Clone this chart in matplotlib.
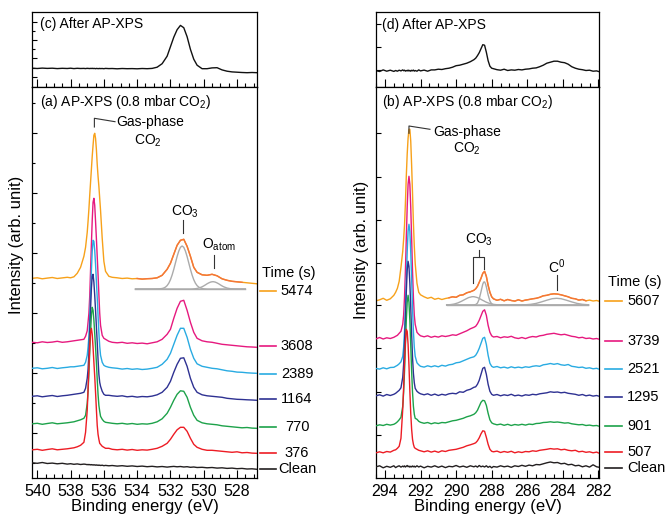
import matplotlib
matplotlib.use('Agg')
import matplotlib.pyplot as plt
from matplotlib.lines import Line2D
from matplotlib.ticker import MultipleLocator

plt.rcParams['font.family'] = ['Liberation Sans', 'DejaVu Sans']
plt.rcParams['mathtext.default'] = 'regular'

# ---------------- data: O 1s (left column) ----------------
E_A = [540.3, 540.0, 539.7, 539.4, 539.1, 538.8, 538.5, 538.2, 538.0, 537.8,
       537.6, 537.4, 537.2, 537.1, 537.0, 536.95, 536.9, 536.85, 536.8, 536.75,
       536.7, 536.65, 536.6, 536.55, 536.5, 536.45, 536.4, 536.35, 536.3, 536.25,
       536.2, 536.1, 536.0, 535.9, 535.7, 535.5, 535.2, 534.9, 534.6, 534.3,
       534.0, 533.7, 533.4, 533.1, 532.8, 532.5, 532.2, 532.0, 531.8, 531.6,
       531.4, 531.2, 531.0, 530.8, 530.6, 530.4, 530.1, 529.8, 529.5, 529.2,
       528.9, 528.6, 528.3, 528.0, 527.7, 527.4, 527.1, 526.8]

A_5474 = [6, 6.5, 5.5, 6.2, 6.8, 5.8, 6.4, 7, 6.5, 7.5,
          11, 17, 28, 37, 52, 63, 75, 89, 102, 115,
          128, 139, 149, 151, 146, 135, 120, 108, 98, 86,
          74, 46, 23, 13, 8, 7, 6.5, 5.8, 6.2, 5.5,
          5.8, 5.2, 5.6, 5.8, 6.5, 9, 15, 21, 30, 39,
          44, 45, 38, 28, 17, 12, 9.5, 9, 10, 8.5,
          5.5, 4, 3, 2.5, 2, 1.5, 1, 0.5]
A_3608 = [5, 4.5, 5.5, 4.8, 5.2, 6, 5, 5.5, 6, 6.5,
          7, 7.5, 8, 11, 16.5, 25, 34, 51, 77, 103,
          127, 145, 149, 142, 126, 109, 91, 73, 53, 34,
          22, 12, 9, 8, 6, 5, 4.5, 5, 4, 4.5,
          3.8, 4.2, 3.5, 4.5, 5.5, 8, 13, 18, 29, 39,
          46, 47, 37, 25, 15, 9, 6.5, 5.5, 5, 4,
          3, 2.5, 2, 1.5, 1, 0.5, 0.3, 0]
A_2389 = [5, 5.5, 4.5, 5, 5.8, 4.8, 5.5, 6, 6.5, 6.5,
          7, 7.5, 8, 11, 18, 26, 37, 56, 79, 102,
          122, 133, 132, 123, 109, 92, 76, 58, 41, 27,
          18, 11, 8, 7, 6, 5.5, 5, 4.2, 4.8, 4,
          4.5, 3.8, 4.2, 5, 6, 9, 14, 20, 29, 38,
          45, 45, 36, 24, 15, 9.5, 7, 6, 5, 4.5,
          3.5, 2.5, 2, 1.2, 1, 0.5, 0.2, 0]
A_1164 = [4, 4.5, 3.5, 4.2, 4.8, 3.8, 4.5, 5, 5.5, 6,
          6.5, 7, 8, 12, 22, 31, 47, 70, 91, 112,
          124, 126, 118, 105, 90, 74, 58, 41, 26, 18,
          14, 9, 6, 5, 5, 4.5, 4, 4.5, 3.5, 4,
          3.2, 3.8, 3.5, 4.2, 5.5, 8, 13, 19, 28, 36,
          42, 42.5, 34, 22, 13, 8, 5.5, 4.5, 4, 3.5,
          3, 2, 1.5, 1, 0.8, 0.5, 0.3, 0]
A_770 = [4.5, 5, 4, 4.8, 5.5, 4.5, 5, 5.5, 6, 6.5,
         7.5, 8.5, 10, 13, 25, 37, 55, 76, 96, 113,
         121, 118, 108, 95, 81, 66, 49, 34, 23, 17,
         12, 9, 7, 6, 5.5, 5, 4.5, 5, 4.2, 4.8,
         4, 4.5, 4.2, 5, 6.5, 9.5, 15, 21, 28, 34,
         37.5, 37, 31, 21, 13, 8, 5.5, 4.5, 4, 3.5,
         2.5, 2, 1.5, 1, 0.5, 0.8, 0.2, 0]
A_376 = [3.5, 4, 3, 3.8, 4.5, 3.5, 4, 4.5, 5, 5.5,
         6.5, 8, 11, 21, 43, 64, 86, 107, 121, 125,
         119, 106, 91, 77, 61, 44, 28, 19, 14, 10,
         9, 7, 6, 5, 5, 4, 3.5, 4, 3.2, 3.8,
         3, 3.5, 3.2, 4, 5, 7, 10, 14, 19, 23.5,
         26, 26, 22, 15, 9, 6, 4, 3, 3, 2.5,
         2, 1.5, 1, 1.5, 0.5, 0.8, 0.2, 0]
A_CLEAN = [6.5, 6, 6.8, 5.8, 6.2, 5.5, 6, 5.2, 5.6, 5,
           5.4, 4.8, 5.2, 5, 4.6, 4.9, 4.5, 4.8, 4.4, 4.7,
           4.3, 4.6, 4.2, 4.5, 4.1, 4.4, 4, 4.3, 3.9, 4.2,
           3.8, 4.1, 3.6, 3.9, 3.5, 3.8, 3.2, 3.6, 3, 3.4,
           2.8, 3.2, 2.6, 3, 2.4, 2.8, 2.2, 2.6, 2.9, 2.5,
           2.8, 2.3, 2.6, 2, 2.3, 1.8, 2, 1.5, 1.8, 1.2,
           1.5, 0.9, 1.2, 0.6, 0.9, 0.3, 0.5, 0]
C_AFTER = [4.5, 4.2, 4.6, 4.3, 4.5, 4.1, 4.4, 4.2, 4.5, 4.1,
           4.4, 4.2, 4.3, 4.1, 4.4, 4.2, 4.3, 4.1, 4.3, 4.2,
           4.4, 4.1, 4.3, 4.2, 4.0, 4.3, 4.1, 4.2, 4.0, 4.3,
           4.1, 4.2, 4.0, 4.3, 4.1, 4.2, 3.9, 4.2, 4.0, 4.1,
           3.9, 4.2, 4.0, 4.3, 5.5, 9, 16.5, 26, 35.5, 43,
           47.3, 45, 36, 23.4, 13.5, 7.5, 4, 4, 4.8, 5,
           2.8, 1.5, 0.8, 0.5, 0.2, 0, 0.2, 0]

# fit components of the 5474 s O 1s spectrum
CA_E = [534.1, 533.5, 533.0, 532.7, 532.5, 532.4, 532.3, 532.2, 532.1, 532.0,
        531.9, 531.8, 531.7, 531.6, 531.5, 531.4, 531.3, 531.2, 531.1, 531.0,
        530.9, 530.8, 530.7, 530.6, 530.5, 530.4, 530.3, 530.2, 530.1, 530.0,
        529.9, 529.8, 529.7, 529.6, 529.5, 529.4, 529.3, 529.2, 529.1, 529.0,
        528.9, 528.8, 528.6, 528.4, 528.2, 528.0, 527.5]
CA_CO3 = [0, 0, 0, 0.1, 0.5, 1.0, 1.9, 3.4, 5.8, 9.3,
          14, 19.7, 26.1, 32.5, 37.9, 41.7, 43, 41.7, 37.9, 32.5,
          26.1, 19.7, 14, 9.3, 5.8, 3.4, 1.9, 1.0, 0.5, 0.2,
          0.1, 0, 0, 0, 0, 0, 0, 0, 0, 0,
          0, 0, 0, 0, 0, 0, 0]
CA_OATOM = [0, 0, 0, 0, 0, 0, 0, 0, 0, 0,
            0, 0, 0, 0, 0, 0, 0, 0, 0, 0,
            0, 0, 0.05, 0.15, 0.3, 0.56, 0.94, 1.5, 2.2, 3.1,
            4.1, 5.2, 6.1, 6.85, 7.25, 7.25, 6.85, 6.1, 5.2, 4.1,
            3.1, 2.2, 0.94, 0.3, 0.1, 0, 0]

# ---------------- data: C 1s (right column) ----------------
E_B = [294.5, 294.3, 294.1, 293.9, 293.7, 293.5, 293.4, 293.3, 293.2, 293.1,
       293.0, 292.95, 292.9, 292.85, 292.8, 292.75, 292.7, 292.65, 292.6, 292.55,
       292.5, 292.45, 292.4, 292.35, 292.3, 292.2, 292.1, 292.0, 291.8, 291.6,
       291.4, 291.2, 291.0, 290.8, 290.6, 290.4, 290.2, 290.0, 289.8, 289.6,
       289.4, 289.2, 289.0, 288.9, 288.8, 288.7, 288.6, 288.5, 288.4, 288.3,
       288.2, 288.1, 288.0, 287.9, 287.7, 287.5, 287.3, 287.1, 286.9, 286.7,
       286.5, 286.3, 286.1, 285.9, 285.7, 285.5, 285.3, 285.1, 284.9, 284.7,
       284.5, 284.3, 284.1, 283.9, 283.7, 283.5, 283.3, 283.1, 282.9, 282.7,
       282.5, 282.3, 282.1, 281.95]

B_5607 = [0.5, 1.5, 3, 1, 2.5, 6, 9, 13, 20, 34,
          50, 62, 76, 98, 125, 147, 163, 172, 172, 160,
          136, 108, 78, 55, 38, 18, 9, 6.5, 4.5, 3,
          4, 2, 3, 1.8, 2.8, 3.5, 4.5, 4, 6, 6.5,
          8.5, 9.5, 11, 12.5, 15, 19, 23, 28, 30, 25,
          16, 9, 4.5, 2.5, 1, 2, 0.5, 1.8, 0.8, 0.2,
          1.5, 0.3, 1.2, 1.8, 2.5, 3, 4, 5.5, 6, 7,
          7.5, 7.2, 6.5, 5.5, 4.5, 3, 2.5, 1.2, 1.8, 0.5,
          1.2, 0.3, 0.8, 0]
B_3739 = [0.5, 1.8, 0.3, 1.5, 0.8, 2, 3, 4, 6, 8,
          15, 24, 42, 68, 101, 132, 155, 163, 155, 132,
          101, 68, 42, 24, 15, 7, 5, 3.5, 2.5, 3.5,
          2, 3, 2.2, 3.5, 2.8, 3.5, 4.5, 4, 5.5, 7,
          8.5, 10.5, 12, 13, 15.5, 19, 23.5, 28, 29.5, 24,
          14, 7, 3.5, 2.3, 2.8, 1.5, 2.5, 2, 3, 1.5,
          0.8, 1.8, 0.7, 2, 2.8, 2.3, 3.5, 4, 5, 5.5,
          6, 5.2, 4.5, 5, 4, 3, 2.5, 1.5, 2, 0.8,
          1.2, 0.3, 0.8, 0]
B_2521 = [0.8, 0.2, 1.5, 0.5, 1.8, 2, 3, 4, 5.5, 7.5,
          13, 22, 38, 61, 90, 117, 138, 145, 138, 117,
          90, 61, 38, 22, 13, 6.5, 4.5, 3, 2.2, 3.5,
          2.5, 3.5, 2.5, 4, 3.2, 4.5, 5, 6.5, 7, 8.5,
          10, 11.5, 12.5, 14, 17, 21, 26, 31, 32, 25,
          14, 6, 3, 2, 2.8, 1.5, 2.2, 1.2, 2.5, 1.5,
          2.2, 1.5, 2.5, 2, 3, 3.5, 3, 4.5, 5, 5.8,
          5, 5.7, 4.5, 4, 4.8, 3, 2.5, 1.8, 2.2, 1,
          1.5, 0.5, 1, 0]
B_1295 = [0.5, 1.5, 0.2, 1.8, 0.8, 2, 3, 4.5, 6, 8.5,
          19, 32, 53, 78, 104, 126, 135, 130, 113, 89,
          62, 39, 23, 13.5, 8, 5, 3.5, 2.5, 1.5, 2.5,
          1, 2.2, 0.8, 2, 1.2, 2.5, 3, 2.5, 4.5, 4,
          6, 7, 9, 9.5, 12, 16, 22, 28, 29, 22,
          12, 5, 2, 1, 1.8, 0.5, 1.5, 0.8, 2, 0.5,
          1.2, 0.3, 1.5, 1, 2, 1.5, 2.5, 3, 3.5, 4.5,
          4, 4.3, 3.5, 4, 3, 2.5, 2, 1, 1.8, 0.5,
          1.2, 0.2, 0.8, 0]
B_901 = [0.5, 1.5, 0.8, 2, 1.2, 2, 3, 4.5, 6.5, 9,
         20, 34, 55, 81, 106, 124, 131, 124, 106, 81,
         55, 34, 20, 12, 8, 7, 5, 4, 3, 3.8,
         2.5, 3.5, 2.8, 3.8, 3.5, 4.5, 5.5, 6, 7, 8,
         9.5, 10.5, 12, 13.5, 16, 20, 24, 26, 25.5, 21,
         13, 6.5, 3.5, 2.5, 1.5, 2.2, 1, 2, 0.8, 1.8,
         1.2, 2, 1.2, 2.2, 1.8, 2.8, 3, 3.8, 4, 4.5,
         4, 4.3, 3.8, 3.2, 3.5, 2.5, 2, 1.5, 1.8, 0.8,
         1.2, 0.5, 0.8, 0]
B_507 = [0.5, 1.5, 0.5, 1.8, 1.2, 3, 3.5, 5, 7, 15,
         44, 66, 91, 112, 124, 122, 109, 88, 62, 40,
         24, 14, 9, 6, 5, 4, 3, 2.5, 1.5, 2.5,
         1.2, 2.2, 1, 2.5, 1.8, 3, 3.5, 4, 5, 6,
         7.5, 8.5, 9.7, 10.5, 12.5, 15.5, 19.5, 22.5, 22, 16,
         9, 4, 2, 1.5, 2.2, 0.8, 1.8, 1, 2, 0.5,
         1.5, 0.8, 1.8, 1.5, 2.5, 2, 3, 3.5, 4, 4.7,
         4.2, 4.5, 3.5, 4, 3, 2.5, 3, 1.5, 2, 1,
         1.5, 0.5, 1.2, 0]
B_CLEAN = [0.5, 1.5, -0.5, 1, 0, 1.5, -0.3, 0.8, 1.5, 0.2,
           1.2, 0.5, 1.4, 0.3, 1, 1.8, 0.6, 1.2, 0.2, 1,
           0.4, 1.3, 0.5, 1.1, 0.2, 1.5, 0.3, 1.2, -0.5, 1,
           0.2, 1.5, 0, 1.2, -0.3, 1, 0.5, 1.8, 0.3, 1.2,
           0, 1.5, 0.5, 1.3, 0.2, 1.8, 0.5, 1.2, 0.3, 1.5,
           0, 1, -0.5, 0.8, 0.2, 1.5, 0.5, 1.2, 0, 1.5,
           0.8, 2, 1, 2.2, 1.5, 2.8, 2.5, 3.5, 4.5, 5.3,
           4.5, 4.8, 3.5, 4, 2.5, 3, 1.5, 2, 0.5, 1.5,
           0.2, 2.5, 0.5, 0]
D_AFTER = [1, 0.2, 1.8, 0.5, 1.5, 0.3, 1.2, 0.5, 1.5, 0.8,
           1.8, 1, 1.5, 0.6, 1.2, 0.8, 1.6, 0.7, 1.3, 0.5,
           1.4, 0.9, 1.6, 0.6, 1.2, 0.5, 1.8, 0.8, 1.6, 0.5,
           1.8, 1.8, 2.5, 2.2, 3, 3.5, 4.5, 6, 6.5, 7.5,
           8.5, 10, 12, 13.5, 16, 19, 23, 27, 26.5, 19.5,
           11, 5.5, 3.5, 3, 2, 1.5, 2.5, 1.2, 1.8, 1.5,
           2.2, 1.8, 2.5, 2.8, 3.5, 3.8, 5, 6.5, 8.5, 9.5,
           10.5, 10.5, 9.5, 9, 7.5, 5, 3.5, 2.5, 2, 1.2,
           1.5, 0.5, 0.8, 0]

# fit components of the 5607 s C 1s spectrum
CB_E = [290.53, 290.3, 290.1, 289.9, 289.7, 289.5, 289.3, 289.1, 289.0, 288.9,
        288.8, 288.7, 288.6, 288.5, 288.45, 288.4, 288.35, 288.3, 288.2, 288.1,
        288.0, 287.9, 287.7, 287.5, 287.2, 286.8, 286.4, 286.1, 285.8, 285.5,
        285.2, 284.9, 284.6, 284.35, 284.1, 283.8, 283.5, 283.2, 282.9, 282.56]
CB_BROAD = [0.12, 0.41, 1.0, 2.1, 3.7, 5.6, 7.4, 8.3, 8.3, 7.9,
            7.4, 6.6, 5.6, 4.6, 4.2, 3.7, 3.2, 2.8, 2.1, 1.5,
            1.0, 0.65, 0.25, 0.08, 0, 0, 0, 0, 0, 0,
            0, 0, 0, 0, 0, 0, 0, 0, 0, 0]
CB_NARROW = [0, 0, 0, 0, 0, 0, 0, 0, 0.07, 0.43,
             1.9, 6.0, 13.3, 20.9, 22.9, 23.1, 21.4, 18.1, 10.1, 4.0,
             1.1, 0.22, 0, 0, 0, 0, 0, 0, 0, 0,
             0, 0, 0, 0, 0, 0, 0, 0, 0, 0]
CB_C0 = [0, 0, 0, 0, 0, 0, 0, 0, 0, 0,
         0, 0, 0, 0, 0, 0, 0, 0, 0, 0,
         0, 0, 0, 0, 0, 0.01, 0.07, 0.24, 0.69, 1.6,
         3.1, 4.8, 6.3, 6.7, 6.3, 4.8, 3.1, 1.6, 0.69, 0.21]

LABELS_A = ['5474', '3608', '2389', '1164', '770', '376', 'Clean']
LABELS_B = ['5607', '3739', '2521', '1295', '901', '507', 'Clean']
COLORS = ['#f7a11a', '#e6197f', '#29abe2', '#2e3192', '#1da24a', '#ed1c24', '#231f20']
FIT_COLOR = '#f4743b'
COMP_COLOR = '#ababab'

# ---------------- layout (stacking offsets etc.) ----------------
OFFS_A = [194, 131, 105, 78, 50, 25, 9]
OFFS_B = [177, 139, 109, 82, 52, 25, 11]
OFF_C, OFF_D = 14.3, 15.3
COMP_BASE_A, COMP_BASE_B = 189.3, 173.3

W, H = 665, 515
fig = plt.figure(figsize=(W / 100, H / 100), dpi=100)


def fx(x):
    return x / W


def fy(y):
    return 1 - y / H


def add_ax(x0, y0, x1, y1):
    return fig.add_axes([fx(x0), fy(y1), (x1 - x0) / W, (y1 - y0) / H])


ax_c = add_ax(32.3, 12, 257, 87)
ax_a = add_ax(32.3, 87, 257, 478.3)
ax_d = add_ax(375.7, 12, 599.3, 87)
ax_b = add_ax(375.7, 87, 599.3, 478.3)

for ax in (ax_a, ax_b, ax_c, ax_d):
    for s in ax.spines.values():
        s.set_linewidth(0.9)
    ax.xaxis.set_major_locator(MultipleLocator(2))
    ax.xaxis.set_minor_locator(MultipleLocator(0.5))
    ax.tick_params(axis='x', which='major', direction='in', length=5.5, width=0.8,
                   top=False, bottom=True, labelsize=11.5, pad=4)
    ax.tick_params(axis='x', which='minor', direction='in', length=3, width=0.8,
                   top=False, bottom=True)
    ax.tick_params(axis='y', which='major', direction='in', length=3.5, width=0.8,
                   left=True, right=False, labelleft=False)
    ax.tick_params(axis='y', which='minor', direction='in', length=2, width=0.8,
                   left=True, right=False)

for ax in (ax_c, ax_d):
    ax.tick_params(axis='x', which='both', labelbottom=False)

ax_a.set_xlim(540.3, 526.8)
ax_c.set_xlim(540.3, 526.8)
ax_b.set_xlim(294.52, 281.95)
ax_d.set_xlim(294.52, 281.95)
ax_a.set_ylim(0, 391.3)
ax_b.set_ylim(0, 391.3)
ax_c.set_ylim(0, 75)
ax_d.set_ylim(0, 75)

ax_a.set_yticks([45.3, 105.3, 165.3, 225.3, 285.3, 345.3])
ax_a.set_yticks([15.3, 75.3, 135.3, 195.3, 255.3, 315.3, 375.3], minor=True)
ax_b.set_yticks([43.3, 86.3, 130.3, 173.3, 215.3, 258.3, 301.3, 345.3])
ax_c.set_yticks([10.3, 28.7, 47, 65.3])
ax_c.set_yticks([19.5, 37.8, 56.2], minor=True)
ax_d.set_yticks([17, 40, 63])

# ---------------- spectra ----------------
SPEC_A = [A_5474, A_3608, A_2389, A_1164, A_770, A_376, A_CLEAN]
SPEC_B = [B_5607, B_3739, B_2521, B_1295, B_901, B_507, B_CLEAN]

# fit components (gray)
ax_a.plot([CA_E[0], CA_E[-1]], [COMP_BASE_A, COMP_BASE_A], color=COMP_COLOR, lw=1.0, zorder=1)
ax_a.plot(CA_E, [COMP_BASE_A + v for v in CA_CO3], color=COMP_COLOR, lw=1.0, zorder=1)
ax_a.plot(CA_E, [COMP_BASE_A + v for v in CA_OATOM], color=COMP_COLOR, lw=1.0, zorder=1)
ax_b.plot([CB_E[0], CB_E[-1]], [COMP_BASE_B, COMP_BASE_B], color=COMP_COLOR, lw=1.0, zorder=1)
for comp in (CB_BROAD, CB_NARROW, CB_C0):
    ax_b.plot(CB_E, [COMP_BASE_B + v for v in comp], color=COMP_COLOR, lw=1.0, zorder=1)

for i, (spec, off, col) in enumerate(zip(SPEC_A, OFFS_A, COLORS)):
    ax_a.plot(E_A, [off + v for v in spec], color=col, lw=1.0, zorder=2 + i)
for i, (spec, off, col) in enumerate(zip(SPEC_B, OFFS_B, COLORS)):
    ax_b.plot(E_B, [off + v for v in spec], color=col, lw=1.0, zorder=2 + i)

# fitted envelope over the top spectra
ea = [e for e in E_A if CA_E[-1] <= e <= CA_E[0]]
va = [OFFS_A[0] + v for e, v in zip(E_A, A_5474) if CA_E[-1] <= e <= CA_E[0]]
ax_a.plot(ea, va, color=FIT_COLOR, lw=1.0, zorder=3)
eb = [e for e in E_B if CB_E[-1] <= e <= CB_E[0]]
vb = [OFFS_B[0] + v for e, v in zip(E_B, B_5607) if CB_E[-1] <= e <= CB_E[0]]
ax_b.plot(eb, vb, color=FIT_COLOR, lw=1.0, zorder=3)

ax_c.plot(E_A, [OFF_C + v for v in C_AFTER], color='#111111', lw=1.0)
ax_d.plot(E_B, [OFF_D + v for v in D_AFTER], color='#111111', lw=1.0)

# ---------------- annotations ----------------
FS = 10
ax_a.text(539.84, 376.6, '(a) AP-XPS (0.8 mbar CO$_2$)', ha='left', va='center', fontsize=FS)
ax_b.text(294.18, 376.6, '(b) AP-XPS (0.8 mbar CO$_2$)', ha='left', va='center', fontsize=FS)
ax_c.text(539.84, 63, '(c) After AP-XPS', ha='left', va='center', fontsize=FS)
ax_d.text(294.18, 62, '(d) After AP-XPS', ha='left', va='center', fontsize=FS)

lk = dict(color='#333333', lw=0.8, clip_on=False, zorder=20)
ax_a.text(533.23, 356.3, 'Gas-phase', ha='center', va='center', fontsize=FS)
ax_a.text(533.35, 337.5, 'CO$_2$', ha='center', va='center', fontsize=FS)
ax_a.plot([536.57, 536.57, 535.33], [351.3, 360, 356.6], **lk)
ax_a.text(531.12, 266.6, 'CO$_3$', ha='center', va='center', fontsize=FS)
ax_a.plot([531.23, 531.23], [258.3, 245.3], **lk)
ax_a.text(529.08, 233.3, 'O$_{atom}$', ha='center', va='center', fontsize=FS)
ax_a.plot([529.38, 529.38], [223.3, 210.3], **lk)

ax_b.text(289.40, 346.6, 'Gas-phase', ha='center', va='center', fontsize=FS)
ax_b.text(289.40, 329.5, 'CO$_2$', ha='center', va='center', fontsize=FS)
ax_b.plot([292.65, 292.65, 291.47], [345, 352.3, 349], **lk)
ax_b.text(288.70, 238.3, 'CO$_3$', ha='center', va='center', fontsize=FS)
ax_b.plot([288.70, 288.70], [228.3, 221.6], **lk)
ax_b.plot([289.06, 289.06, 288.41, 288.41], [195, 221.6, 221.6, 209], **lk)
ax_b.text(284.34, 211.6, 'C$^0$', ha='center', va='center', fontsize=FS)
ax_b.plot([284.32, 284.32], [203.3, 188.3], **lk)

# ---------------- legends (time labels) ----------------
LEG_Y_A = [290.7, 345.7, 374, 399, 426.7, 453.3, 469.3]
LEG_Y_B = [300.7, 340.7, 369, 396.7, 425.7, 452.3, 468.3]
fig.text(fx(262), fy(272.7), 'Time (s)', ha='left', va='center', fontsize=10.5)
for lab, col, y in zip(LABELS_A, COLORS, LEG_Y_A):
    fig.add_artist(Line2D([fx(260), fx(275.7)], [fy(y), fy(y)], color=col, lw=1.2))
    fig.text(fx(297), fy(y), lab, ha='center', va='center', fontsize=10.5)
fig.text(fx(608.3), fy(281.7), 'Time (s)', ha='left', va='center', fontsize=10.5)
for lab, col, y in zip(LABELS_B, COLORS, LEG_Y_B):
    fig.add_artist(Line2D([fx(605), fx(621.7)], [fy(y), fy(y)], color=col, lw=1.2))
    fig.text(fx(627.3), fy(y), lab, ha='left', va='center', fontsize=10.5)

# ---------------- axis titles ----------------
fig.text(fx(16.7), fy(245), 'Intensity (arb. unit)', rotation=90, ha='center', va='center', fontsize=12)
fig.text(fx(362), fy(250), 'Intensity (arb. unit)', rotation=90, ha='center', va='center', fontsize=12)
fig.text(fx(145), fy(507), 'Binding energy (eV)', ha='center', va='center', fontsize=12)
fig.text(fx(488), fy(507), 'Binding energy (eV)', ha='center', va='center', fontsize=12)

fig.savefig('out.png', dpi=100)
